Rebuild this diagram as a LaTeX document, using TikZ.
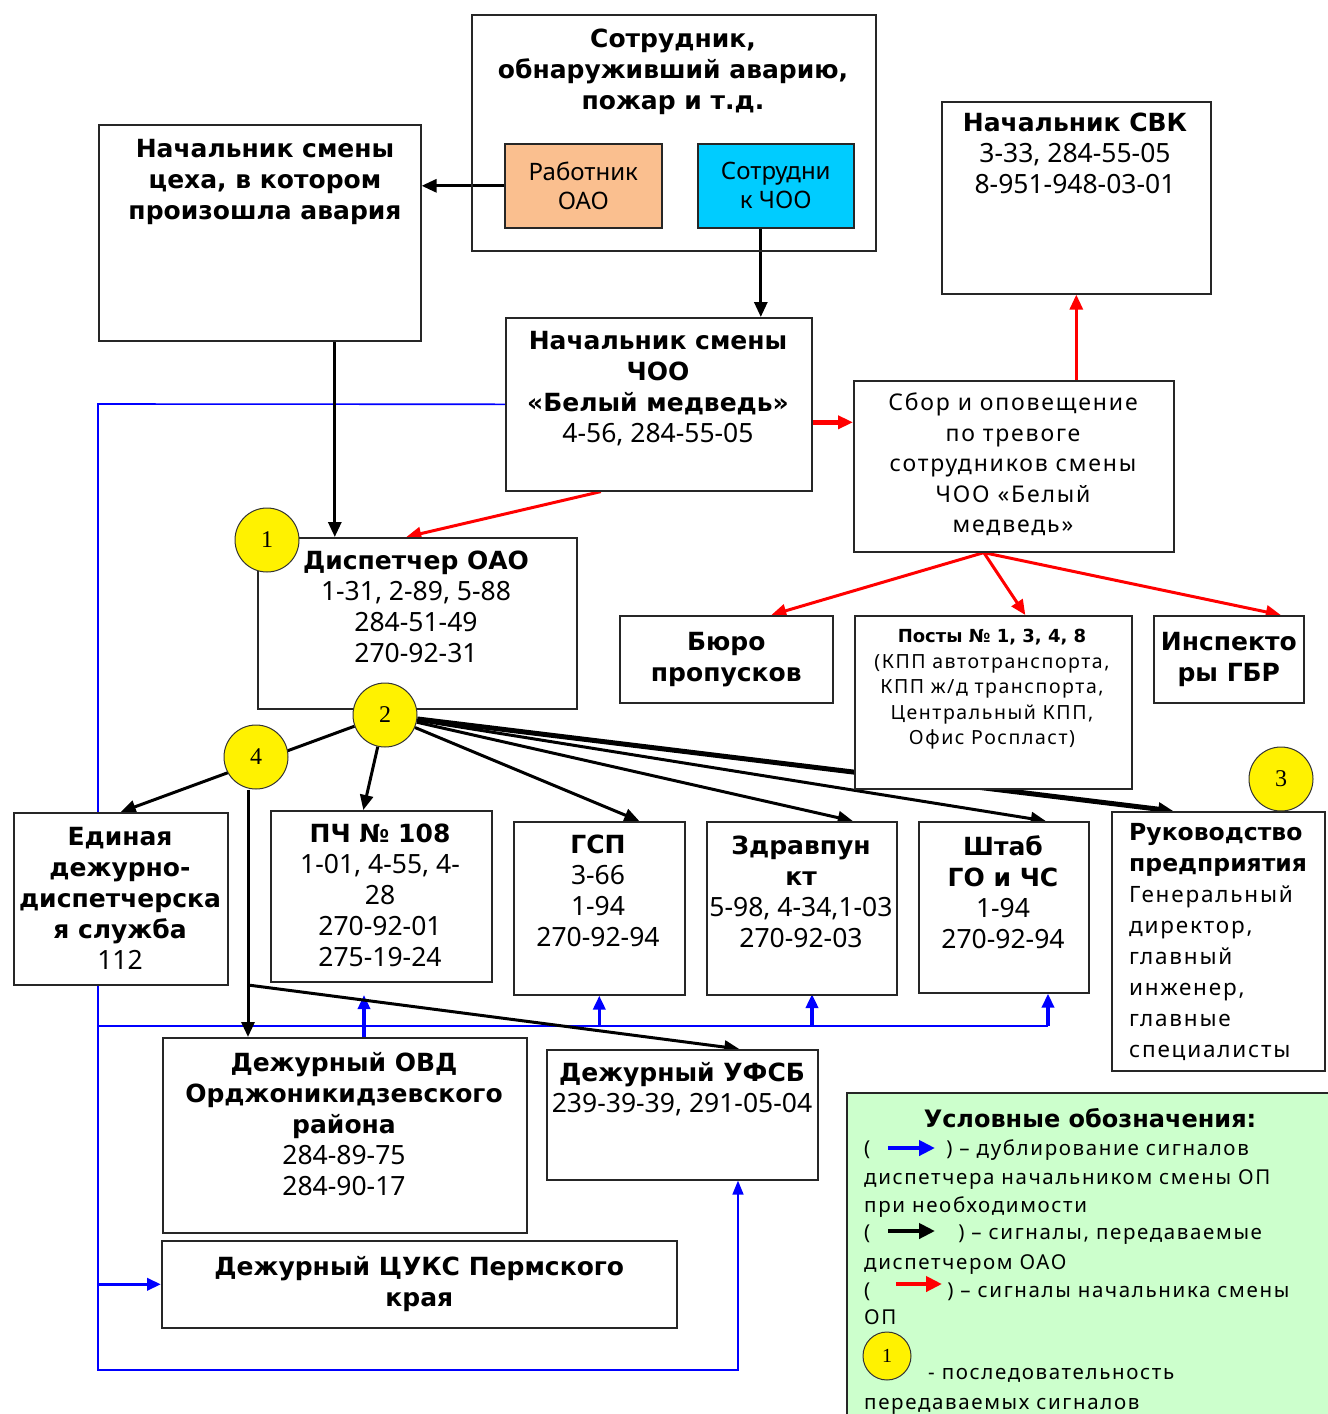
\documentclass[tikz,border=0pt]{standalone}
\usepackage{fontspec}
\setmainfont{Noto Sans}[BoldFont={DejaVu Sans Bold}]
\newfontfamily\widefont[LetterSpace=8]{Noto Sans}
\newfontfamily\numfont{Liberation Serif}
\usetikzlibrary{arrows.meta,backgrounds}
\definecolor{peach}{RGB}{250,191,143}
\definecolor{skycyan}{RGB}{0,204,255}
\definecolor{legendgreen}{RGB}{204,255,204}
\newcommand{\hd}[1]{{\normalfont\bfseries\fontsize{25}{31}\selectfont #1}}
\tikzset{
  box/.style     = {draw=black!85, line width=1.6pt, fill=white, inner sep=0pt, anchor=north west},
  txt/.style     = {anchor=north, inner sep=0pt, align=center, font=\fontsize{26.5}{31}\selectfont},
  thin/.style    = {anchor=north, inner sep=0pt, align=center, font=\widefont\fontsize{23}{30.5}\selectfont},
  badge/.style   = {circle, draw=black!80, line width=1pt, fill=yellow, minimum size=64pt,
                    inner sep=0pt, font=\numfont\fontsize{24}{24}\selectfont},
  legtxt/.style  = {anchor=base west, inner sep=0pt, font=\widefont\fontsize{20.5}{24}\selectfont},
  sig/.style     = {line width=3pt, -{Triangle[length=15pt,width=13pt]}},
  sigred/.style  = {red, line width=3pt, -{Triangle[length=15pt,width=13pt]}},
  dup/.style     = {blue, line width=1.6pt},
  duparr/.style  = {blue, line width=3.5pt, -{Triangle[length=14pt,width=12pt]}},
  keyarr/.style  = {line width=4pt, -{Triangle[length=16pt,width=15pt]}}
}

\begin{document}
\begin{tikzpicture}[x=1pt,y=-1pt]
  \useasboundingbox (0,0) rectangle (1328,1414);

  % upper part
  \node[box, fill=none, minimum width=404, minimum height=236] (finder) at (471,14) {};
  \node[txt] (finderT) at (673,29) {\hd{Сотрудник,}\\\hd{обнаруживший аварию,}\\\hd{пожар и т.д.}};
  \node[box, fill=peach, minimum width=157, minimum height=84, align=center,
        font=\fontsize{24}{29}\selectfont] (rab) at (504,143) {Работник\\ОАО};
  \node[box, fill=skycyan, minimum width=156, minimum height=84, align=center,
        font=\fontsize{24}{29}\selectfont] (sotr) at (697,143) {Сотрудни\\к ЧОО};

  \node[box, minimum width=322, minimum height=216] (shop) at (98,124) {};
  \node[txt] (shopT) at (265,139) {\hd{Начальник смены}\\\hd{цеха, в котором}\\\hd{произошла авария}};

  \node[box, minimum width=306, minimum height=173] (choo) at (505,317) {};
  \node[txt] (chooT) at (658,331) {\hd{Начальник смены}\\\hd{ЧОО}\\\hd{«Белый медведь»}\\4-56, 284-55-05};

  \node[box, minimum width=269, minimum height=192] (svk) at (941,101) {};
  \node[txt] (svkT) at (1075,113) {\hd{Начальник СВК}\\3-33, 284-55-05\\8-951-948-03-01};

  \node[box, minimum width=320, minimum height=171] (sbor) at (853,380) {};
  \node[thin] (sborT) at (1013,393) {Сбор и оповещение\\по тревоге\\сотрудников смены\\ЧОО «Белый\\медведь»};

  \node[box, minimum width=319, minimum height=171] (disp) at (257,537) {};
  \node[txt] (dispT) at (416,551) {\hd{Диспетчер ОАО}\\1-31, 2-89, 5-88\\284-51-49\\270-92-31};

  % guard posts
  \node[box, minimum width=213, minimum height=87, align=center,
        font=\fontsize{25}{31}\selectfont\bfseries] (buro) at (619,615) {Бюро\\пропусков};
  \node[box, minimum width=277, minimum height=173] (posty) at (854,615) {};
  \node[anchor=north, inner sep=0pt, align=center, font=\widefont\fontsize{19.5}{25.5}\selectfont]
        (postyT) at (992,629) {{\normalfont\bfseries\fontsize{18}{25.5}\selectfont Посты № 1, 3, 4, 8}\\(КПП автотранспорта,\\КПП ж/д транспорта,\\Центральный КПП,\\Офис Роспласт)};
  \node[box, minimum width=150, minimum height=87, align=center,
        font=\fontsize{25}{31}\selectfont\bfseries] (insp) at (1153,615) {Инспекто\\ры ГБР};

  % services
  \node[box, minimum width=214, minimum height=172] (edds) at (13,812) {};
  \node[txt] (eddsT) at (120,827) {\hd{Единая}\\\hd{дежурно-}\\\hd{диспетчерска}\\\hd{я служба}\\112};
  \node[box, minimum width=221, minimum height=171] (pch) at (270,810) {};
  \node[txt] (pchT) at (380,824) {\hd{ПЧ № 108}\\1-01, 4-55, 4-\\28\\270-92-01\\275-19-24};
  \node[box, minimum width=171, minimum height=173] (gsp) at (513,821) {};
  \node[txt] (gspT) at (598,835) {\hd{ГСП}\\3-66\\1-94\\270-92-94};
  \node[box, minimum width=190, minimum height=173] (zdrav) at (706,821) {};
  \node[txt] (zdravT) at (801,836) {\hd{Здравпун}\\\hd{кт}\\5-98, 4-34,1-03\\270-92-03};
  \node[box, minimum width=170, minimum height=171] (shtab) at (918,821) {};
  \node[txt] (shtabT) at (1003,835) {\hd{Штаб}\\\hd{ГО и ЧС}\\1-94\\270-92-94};
  \node[box, minimum width=213, minimum height=259] (ruk) at (1111,811) {};
  \begin{scope}
    \clip (ruk.north west) rectangle ([yshift=10]ruk.south east);
    \node[anchor=north west, inner sep=0pt, align=left, font=\widefont\fontsize{22.5}{31}\selectfont]
          (rukT) at (1129,823) {{\normalfont\bfseries\fontsize{23.5}{31}\selectfont Руководство}\\
          {\normalfont\bfseries\fontsize{23.5}{31}\selectfont предприятия}\\Генеральный\\директор,\\главный\\инженер,\\главные\\специалисты};
  \end{scope}

  \node[box, minimum width=364, minimum height=195] (ovd) at (162,1037) {};
  \node[txt] (ovdT) at (344,1052) {\hd{Дежурный ОВД}\\\hd{Орджоникидзевского}\\\hd{района}\\284-89-75\\284-90-17};
  \node[box, minimum width=271, minimum height=130] (ufsb) at (546,1049) {};
  \node[txt] (ufsbT) at (682,1062) {\hd{Дежурный УФСБ}\\239-39-39, 291-05-04};
  \node[box, minimum width=515, minimum height=87, align=center,
        font=\fontsize{25}{31}\selectfont\bfseries] (cuks) at (161,1240) {Дежурный ЦУКС Пермского\\края};

  % order of signals
  \node[badge] (c1) at (267,540) {1};
  \node[badge] (c2) at (385,715) {2};
  \node[badge] (c4) at (256,757) {4};
  \node[badge] (c3) at (1281,779) {3};

  \coordinate (lefttop) at (98,404);
  \coordinate (leftbot) at (98,1370);
  \coordinate (ufsbin) at (738,1370);
  \coordinate (busL) at (98,1026);
  \coordinate (busR) at (1048,1026);
  \coordinate (pchup) at (364,995);
  \coordinate (zdup) at (812,994);
  \coordinate (fork) at (248,985);
  \coordinate (chooR) at ([yshift=-18]choo.east);
  \coordinate (chooB) at ([xshift=-58]choo.south);
  \coordinate (sborB) at ([xshift=-30]sbor.south);
  \coordinate (sotrB) at ([xshift=-15]sotr.south);
  \coordinate (shopB) at ([xshift=75]shop.south);

  \begin{pgfonlayer}{background}
    % duplicating
    \draw[dup, -{Triangle[length=14pt,width=11pt]}] (choo.west) -- (lefttop) -- (leftbot)
          -- (ufsbin) -- (ufsbin |- ufsb.south);
    \draw[dup] (busL) -- (busR);
    \draw[duparr] (cuks.west -| lefttop) -- (cuks.west);
    \draw[duparr] (pchup |- ovd.north) -- (pchup);
    \draw[duparr] (gsp.south |- busL) -- (gsp.south);
    \draw[duparr] (zdup |- busL) -- (zdup);
    \draw[duparr] (busR) -- (busR |- shtab.south);
    % dispatcher
    \draw[sig] (rab.west) -- (rab.west -| shop.east);
    \draw[sig] (sotrB) -- (sotrB |- choo.north);
    \draw[sig] (shopB) -- (shopB |- disp.north);
    \draw[sig] (c2) -- (edds.north);
    \draw[sig] (c2) -- ([xshift=-18]pch.north);
    \draw[sig] (c2) -- ([xshift=40]gsp.north);
    \draw[sig] (c2) -- ([xshift=51]zdrav.north);
    \draw[sig] (c2) -- ([xshift=42]shtab.north);
    \draw[sig, line width=5pt] (c2) -- ([xshift=-45]ruk.north);
    \draw[sig] (c4.south -| fork) -- (fork |- ovd.north);
    \draw[sig] (fork) -- ([xshift=57]ufsb.north);
    % shift chief
    \draw[sigred, line width=5pt] (chooR) -- (chooR -| sbor.west);
    \draw[sigred] (sbor.north -| svk.south) -- (svk.south);
    \draw[sigred] (chooB) -- ([xshift=-11]disp.north);
    \draw[sigred] (sborB) -- ([xshift=45]buro.north);
    \draw[sigred] (sborB) -- ([xshift=32]posty.north);
    \draw[sigred] (sborB) -- ([xshift=52]insp.north);
  \end{pgfonlayer}

  % legend
  \node[box, fill=legendgreen, minimum width=490, minimum height=330] (legend) at (846,1092) {};
  \node[anchor=center, inner sep=0pt, font=\bfseries\fontsize{24}{28}\selectfont]
        (legT) at (1090,1118) {Условные обозначения:};
  \node[legtxt] (leg1) at (864,1155) {(\hspace{76pt}) – дублирование сигналов};
  \node[legtxt] (leg2) at (864,1184) {диспетчера начальником смены ОП};
  \node[legtxt] (leg3) at (864,1212) {при необходимости};
  \node[legtxt] (leg4) at (864,1239) {(\hspace{88pt}) – сигналы, передаваемые};
  \node[legtxt] (leg5) at (864,1269) {диспетчером ОАО};
  \node[legtxt] (leg6) at (864,1297) {(\hspace{77pt}) – сигналы начальника смены};
  \node[legtxt] (leg7) at (864,1324) {ОП};
  \node[badge, minimum size=48pt, font=\numfont\fontsize{20}{20}\selectfont] (legc) at (887,1356) {1};
  \node[legtxt] (leg8) at (928,1379) {- последовательность};
  \node[legtxt] (leg9) at (864,1409) {передаваемых сигналов};
  \coordinate (k1a) at (888,1148);
  \coordinate (k1b) at (935,1148);
  \coordinate (k2a) at (888,1231);
  \coordinate (k2b) at (935,1231);
  \coordinate (k3a) at (896,1284);
  \coordinate (k3b) at (942,1284);
  \draw[keyarr, blue] (k1a) -- (k1b);
  \draw[keyarr, black] (k2a) -- (k2b);
  \draw[keyarr, red] (k3a) -- (k3b);
\end{tikzpicture}
\end{document}
